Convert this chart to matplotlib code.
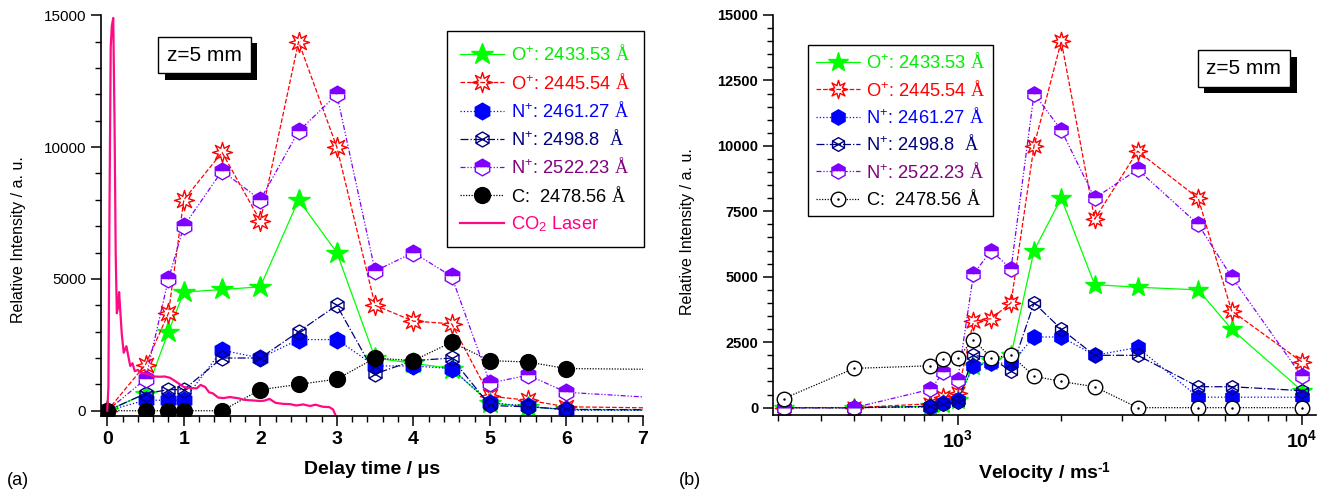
import numpy as np
import matplotlib.pyplot as plt
from matplotlib.path import Path
from matplotlib.ticker import MultipleLocator, LogLocator, NullFormatter
from matplotlib.legend_handler import HandlerTuple
import matplotlib.patheffects as pe

plt.rcParams['font.family'] = ['Liberation Sans', 'DejaVu Sans']
plt.rcParams['mathtext.fontset'] = 'custom'
plt.rcParams['mathtext.rm'] = 'Liberation Serif'
plt.rcParams['mathtext.it'] = 'Liberation Serif:italic'
plt.rcParams['mathtext.bf'] = 'Liberation Serif:bold'
plt.rcParams['axes.unicode_minus'] = False

# delay times / us (the last two lie past the 7 us edge of panel a)
delay = np.array([0, 0.5, 0.8, 1, 1.5, 2, 2.5, 3, 3.5, 4, 4.5, 5, 5.5, 6, 10, 16])

o_2433 = np.array([0, 650, 3000, 4500, 4600, 4700, 8000, 6000, 2000, 1800, 1600, 300, 150, 50, 0, 0])
o_2445 = np.array([0, 1750, 3700, 8000, 9800, 7200, 14000, 10000, 4000, 3400, 3300, 550, 400, 150, 0, 0])
n_2461 = np.array([0, 400, 400, 400, 2300, 2000, 2700, 2700, 1700, 1700, 1600, 300, 180, 20, 0, 0])
n_2498 = np.array([0, 650, 800, 800, 2000, 2000, 3000, 4000, 1400, 1900, 2000, 200, 150, 50, 0, 0])
n_2522 = np.array([0, 1200, 5000, 7000, 9100, 8000, 10600, 12000, 5300, 6000, 5100, 1050, 1350, 700, 0, 0])
c_2478 = np.array([0, 0, 0, 0, 0, 800, 1000, 1200, 2000, 1900, 2600, 1900, 1850, 1600, 1500, 350])

# CO2 laser pulse trace
laser_t = [0, 0.015, 0.03, 0.045, 0.06, 0.078, 0.095, 0.11, 0.125, 0.14, 0.155, 0.17,
           0.19, 0.215, 0.25, 0.28, 0.3, 0.33, 0.36, 0.4, 0.43, 0.47, 0.53, 0.6, 0.69,
           0.75, 0.82, 0.9, 0.95, 1.0, 1.08, 1.17, 1.22, 1.28, 1.33, 1.38, 1.45, 1.52,
           1.6, 1.65, 1.72, 1.78, 1.85, 1.91, 1.99, 2.05, 2.12, 2.2, 2.3, 2.39, 2.47,
           2.56, 2.65, 2.72, 2.82, 2.9, 2.95, 2.98]
laser_i = [0, 900, 8000, 13800, 14600, 14900, 11000, 6000, 3700, 3900, 4500, 3800,
           2900, 2200, 2450, 2000, 1700, 1800, 1500, 1550, 1450, 1420, 1400, 1300, 1290,
           1300, 1250, 1100, 1000, 900, 860, 850, 980, 900, 700, 660, 500, 480,
           520, 500, 470, 420, 400, 390, 370, 380, 450, 300, 260, 250, 200,
           240, 180, 230, 150, 140, 50, -150]

distance_mm = 5
velocity = distance_mm * 1000 / delay[1:]   # m/s

labels = ['O$^{\\mathdefault{+}}$: 2433.53 $\\mathrm{\\AA}$',
          'O$^{\\mathdefault{+}}$: 2445.54 $\\mathrm{\\AA}$',
          'N$^{\\mathdefault{+}}$: 2461.27 $\\mathrm{\\AA}$',
          'N$^{\\mathdefault{+}}$: 2498.8  $\\mathrm{\\AA}$',
          'N$^{\\mathdefault{+}}$: 2522.23 $\\mathrm{\\AA}$',
          'C:  2478.56 $\\mathrm{\\AA}$',
          'CO$_{\\mathdefault{2}}$ Laser']
text_colors = ['#00ee00', '#ff0000', '#0000ff', '#000080', '#800080', 'black', '#ff0080']

# open eight-point star
ang = np.linspace(0, 2 * np.pi, 17)[:-1] + np.pi / 2
rad = np.where(np.arange(16) % 2 == 0, 1.0, 0.45)
star_v = np.column_stack([rad * np.cos(ang), rad * np.sin(ang)])
star_v = np.vstack([star_v, star_v[:1]])
star_path = Path(star_v, [Path.MOVETO] + [Path.LINETO] * 15 + [Path.CLOSEPOLY])

# hexagon with a cross through it
ha = np.deg2rad(np.arange(90, 450, 60))
hex_v = np.column_stack([np.cos(ha), np.sin(ha)])
hx_verts = list(hex_v) + [hex_v[0]] + [hex_v[1], hex_v[4], hex_v[5], hex_v[2]]
hx_codes = [Path.MOVETO] + [Path.LINETO] * 5 + [Path.CLOSEPOLY] + \
           [Path.MOVETO, Path.LINETO, Path.MOVETO, Path.LINETO]
hexx_path = Path(hx_verts, hx_codes)


def draw(ax, x, sl, ms, c_open):
    h = []
    h += ax.plot(x, o_2433[sl], '-', color='#00ff00', lw=0.9, marker='*',
                 ms=ms * 1.35, mfc='#00ff00', mec='#00ff00')
    h += ax.plot(x, o_2445[sl], '--', color='#ff0000', lw=0.9, marker=star_path,
                 ms=ms * 1.2, mfc='none', mec='#ff0000', mew=1.0)
    h += ax.plot(x, n_2461[sl], ':', color='#0000ff', lw=0.9, marker='h',
                 ms=ms, mfc='#0000ff', mec='#0000ff')
    h += ax.plot(x, n_2498[sl], '-.', color='#000080', lw=0.9, marker=hexx_path,
                 ms=ms * 0.9, mfc='none', mec='#000080', mew=1.0)
    h += ax.plot(x, n_2522[sl], color='#8000ff', lw=0.9, dashes=[4, 1.5, 1, 1.5, 1, 1.5],
                 marker='h', ms=ms, fillstyle='top', mfc='#8000ff',
                 markerfacecoloralt='white', mec='#8000ff', mew=1.0)
    if c_open:
        line, = ax.plot(x, c_2478[sl], color='black', lw=0.9, dashes=[1, 1.2],
                        marker='o', ms=ms * 0.95, mfc='white', mec='black', mew=1.0)
        dots, = ax.plot(x, c_2478[sl], ls='none', marker='.', ms=1.5, color='black')
        h.append((line, dots))
    else:
        h += ax.plot(x, c_2478[sl], color='black', lw=0.9, dashes=[1, 1.2],
                     marker='o', ms=ms * 0.95, mfc='black', mec='black')
    return h


fig = plt.figure(figsize=(13.3, 4.91), dpi=100)
ax1 = fig.add_axes([0.0757, 0.1527, 0.4077, 0.8161])
ax2 = fig.add_axes([0.581, 0.1548, 0.4085, 0.8147])

# panel a: intensity vs delay time
h1 = draw(ax1, delay, slice(None), 12, False)
h1 += ax1.plot(laser_t, laser_i, '-', color='#ff0a84', lw=1.6)
ax1.set_xlim(-0.086, 7)
ax1.set_ylim(-200, 15000)
ax1.set_xticks(range(8), labels=[str(i) for i in range(8)], fontweight='bold', fontsize=14)
ax1.xaxis.set_minor_locator(MultipleLocator(0.2))
ax1.set_yticks([0, 5000, 10000, 15000])
ax1.yaxis.set_minor_locator(MultipleLocator(1000))
ax1.tick_params(axis='y', labelsize=11)
ax1.set_xlabel('Delay time / μs', fontsize=14, fontweight='bold', labelpad=10)
ax1.set_ylabel('Relative Intensity / a. u.', fontsize=11.5)
ax1.yaxis.set_label_coords(-0.138, 0.44)
leg1 = ax1.legend(h1, labels, loc='upper left', bbox_to_anchor=(0.638, 0.9616),
                  borderaxespad=0, fontsize=13.2, labelcolor=text_colors,
                  fancybox=False, edgecolor='black', framealpha=1,
                  handlelength=2.4, handletextpad=0.35, labelspacing=0.45,
                  borderpad=0.75)
leg1.get_frame().set_linewidth(1.0)

# panel b: intensity vs velocity
h2 = draw(ax2, velocity, slice(1, None), 11, True)
ax2.set_xscale('log')
ax2.set_xlim(290, 11000)
ax2.set_ylim(-280, 15000)
ax2.set_xticks([1e3, 1e4], labels=['$\\mathdefault{10^{3}}$', '$\\mathdefault{10^{4}}$'],
               fontweight='bold', fontsize=14)
ax2.xaxis.set_minor_locator(LogLocator(base=10, subs=np.arange(2, 10)))
ax2.xaxis.set_minor_formatter(NullFormatter())
ax2.set_yticks(np.arange(0, 15001, 2500))
ax2.yaxis.set_minor_locator(MultipleLocator(500))
for lbl in ax2.get_yticklabels():
    lbl.set_fontweight('bold')
    lbl.set_fontsize(10.5)
ax2.set_xlabel('Velocity / ms$^{\\mathdefault{\u20101}}$', fontsize=14, fontweight='bold',
               labelpad=7)
ax2.set_ylabel('Relative Intensity / a. u.', fontsize=11.5)
ax2.yaxis.set_label_coords(-0.143, 0.458)
leg2 = ax2.legend(h2, labels[:6], loc='upper left', bbox_to_anchor=(0.0655, 0.925),
                  borderaxespad=0, fontsize=13.2, labelcolor=text_colors[:6],
                  fancybox=False, edgecolor='black', framealpha=1,
                  handlelength=2.4, handletextpad=0.35, labelspacing=0.4,
                  borderpad=0.4, handler_map={tuple: HandlerTuple(ndivide=1)})
leg2.get_frame().set_linewidth(1.0)

for ax in (ax1, ax2):
    ax.spines[['top', 'right']].set_visible(False)
    ax.spines[['left', 'bottom']].set_linewidth(1.2)
    ax.tick_params(which='major', direction='out', length=7, width=1.1)
    ax.tick_params(which='minor', direction='out', length=4, width=1.0)

# "z=5 mm" boxes with drop shadow
for ax, pos in ((ax1, (0.1914, 0.9004)), (ax2, (0.867, 0.8657))):
    t = ax.text(*pos, 'z=5 mm', transform=ax.transAxes, ha='center', va='center',
                fontsize=15, bbox=dict(boxstyle='square,pad=0.42', fc='white',
                                       ec='black', lw=1.0))
    t.get_bbox_patch().set_path_effects(
        [pe.SimplePatchShadow(offset=(4.8, -4.5), shadow_rgbFace='black', alpha=1),
         pe.Normal()])

fig.text(0.0135, 0.022, '(a)', fontsize=13, ha='center', va='center')
fig.text(0.519, 0.022, '(b)', fontsize=13, ha='center', va='center')

fig.savefig('out.png', dpi=100)
